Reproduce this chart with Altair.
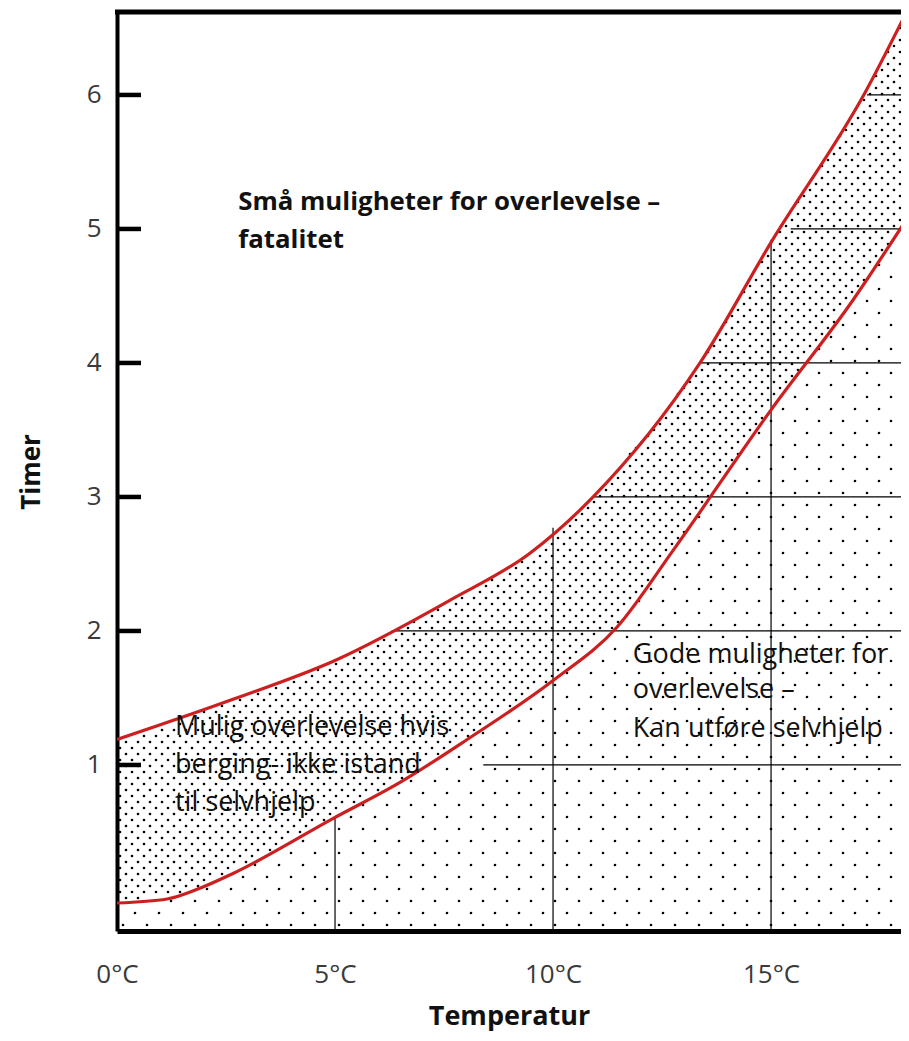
import altair as alt
import pandas as pd
import numpy as np

# ---- data ----
upper_temp = [0, 2.66, 5.0, 7.64, 9.47, 10.92, 13.37, 15.0, 17.16, 18.2]
upper_hours = [1.19, 1.49, 1.78, 2.23, 2.58, 3.0, 4.0, 4.9, 6.02, 6.68]

lower_temp = [0, 1.15, 1.9, 2.66, 4.95, 6.49, 8.03, 10.0, 11.47, 12.75, 15.0, 16.88, 18.2]
lower_hours = [-0.03, 0.0, 0.08, 0.19, 0.6, 0.87, 1.19, 1.63, 2.03, 2.6, 3.65, 4.47, 5.12]

x_ticks = [0, 5, 10, 15]
y_ticks = [1, 2, 3, 4, 5, 6]

vgrid_temp = [5, 10, 15]
vgrid_top = [0.6, 2.77, 4.92]
hgrid_hours = [1, 2, 3, 4, 5, 6]
hgrid_start = [8.4, 6.3, 10.92, 13.37, 15.45, 17.2]

ann_text = ["Små muligheter for overlevelse –", "fatalitet",
            "Mulig overlevelse hvis", "berging- ikke istand", "til selvhjelp",
            "Gode muligheter  for", "overlevelse –", "Kan utføre selvhjelp"]
ann_temp = [2.78, 2.78, 1.33, 1.33, 1.33, 11.83, 11.83, 11.83]
ann_hours = [5.14, 4.86, 1.224, 0.94, 0.657, 1.761, 1.50, 1.209]
ann_bold = [True, True, False, False, False, False, False, False]

# ---- layout ----
W, H = 784, 919
X_MIN, X_MAX = 0.0, 17.98
Y_MIN, Y_MAX = -0.239, 6.619
PXX = W / (X_MAX - X_MIN)
PXY = H / (Y_MAX - Y_MIN)

FONT = "Open Sans"
RED = "#cc2020"


def dot_texture(dx_px, dy_px):
    dx, dy = dx_px / PXX, dy_px / PXY
    xs_all, ys_all = [], []
    for i, y in enumerate(np.arange(Y_MIN + dy / 2, Y_MAX, dy)):
        off = dx / 2 if i % 2 else 0.0
        xs = np.arange(dx / 4 + off, X_MAX, dx)
        xs_all.append(xs)
        ys_all.append(np.full_like(xs, y))
    return np.concatenate(xs_all), np.concatenate(ys_all)


m = 2.5 / PXY
sx, sy = dot_texture(24, 12)
lo_s = np.interp(sx, lower_temp, lower_hours)
keep = sy < lo_s - m
sparse = pd.DataFrame({"t": sx[keep], "h": sy[keep]})

dx_, dy_ = dot_texture(12, 6)
lo_d = np.interp(dx_, lower_temp, lower_hours)
up_d = np.interp(dx_, upper_temp, upper_hours)
keep = (dy_ > lo_d + m) & (dy_ < up_d - m)
dense = pd.DataFrame({"t": dx_[keep], "h": dy_[keep]})

xs = alt.Scale(domain=[X_MIN, X_MAX], nice=False, zero=False)
ys = alt.Scale(domain=[Y_MIN, Y_MAX], nice=False, zero=False)

X_AX = alt.Axis(values=x_ticks, labelExpr="datum.value + '°C'", title="Temperatur",
                grid=False, ticks=False, tickSize=0, labelPadding=30, labelFlush=False,
                labelFontSize=26, labelFont=FONT, labelColor="#3a3a3a",
                titleFont=FONT, titleFontSize=27, titleFontWeight="bold",
                titleColor="#111", titlePadding=16,
                domainColor="black", domainWidth=5)
Y_AX = alt.Axis(values=y_ticks, title="Timer", grid=False, ticks=False, tickSize=0,
                labelPadding=16, labelFlush=False, labelFontSize=26, labelFont=FONT,
                labelColor="#3a3a3a",
                titleFont=FONT, titleFontSize=26, titleFontWeight="bold",
                titleColor="#111", titlePadding=42,
                domainColor="black", domainWidth=4)


def X(field):
    return alt.X(field, scale=xs, axis=X_AX, title="Temperatur")


def Y(field):
    return alt.Y(field, scale=ys, axis=Y_AX, title="Timer")


curves = pd.concat([
    pd.DataFrame({"t": upper_temp, "h": upper_hours, "c": "upper"}),
    pd.DataFrame({"t": lower_temp, "h": lower_hours, "c": "lower"}),
])

dots = alt.Chart(pd.concat([sparse, dense])).mark_circle(size=7, color="black", opacity=1).encode(
    x=X("t:Q"), y=Y("h:Q"),
)

vgrid = alt.Chart(pd.DataFrame({"t": vgrid_temp, "top": vgrid_top})).mark_rule(
    color="black", strokeWidth=1.2).encode(
    x=X("t:Q"), y=Y("top:Q"), y2=alt.value(H),
)

hgrid = alt.Chart(pd.DataFrame({"h": hgrid_hours, "start": hgrid_start})).mark_rule(
    color="black", strokeWidth=1.2).encode(
    y=Y("h:Q"), x=X("start:Q"), x2=alt.value(W),
)

lines = alt.Chart(curves).mark_line(color=RED, strokeWidth=3.2, interpolate="monotone", clip=True).encode(
    x=X("t:Q"), y=Y("h:Q"), detail="c:N",
)

yticks = alt.Chart(pd.DataFrame({"h": y_ticks})).mark_rule(color="black", strokeWidth=4.5).encode(
    y=Y("h:Q"), x=alt.value(0), x2=alt.value(24),
)

topline = alt.Chart(pd.DataFrame({"k": [0]})).mark_rule(color="black", strokeWidth=5).encode(
    y=alt.value(0), x=alt.value(-2), x2=alt.value(W + 10),
)

ann = pd.DataFrame({"t": ann_temp, "h": ann_hours, "txt": ann_text, "bold": ann_bold})
text_bold = alt.Chart(ann[ann.bold]).mark_text(
    align="left", baseline="alphabetic", font=FONT, fontSize=25.8, fontWeight="bold", color="#111").encode(
    x=X("t:Q"), y=Y("h:Q"), text="txt:N",
)
text_reg = alt.Chart(ann[~ann.bold]).mark_text(
    align="left", baseline="alphabetic", font=FONT, fontSize=27, color="#111").encode(
    x=X("t:Q"), y=Y("h:Q"), text="txt:N",
)

chart = alt.layer(dots, vgrid, hgrid, lines, yticks, topline, text_bold, text_reg).properties(
    width=W, height=H,
    autosize=alt.AutoSizeParams(type="none"),
    padding={"left": 109, "top": 4, "right": 0, "bottom": 102},
    background="white",
).configure_view(stroke=None)

chart.save("out.html", embed_options={"renderer": "svg", "actions": False})
